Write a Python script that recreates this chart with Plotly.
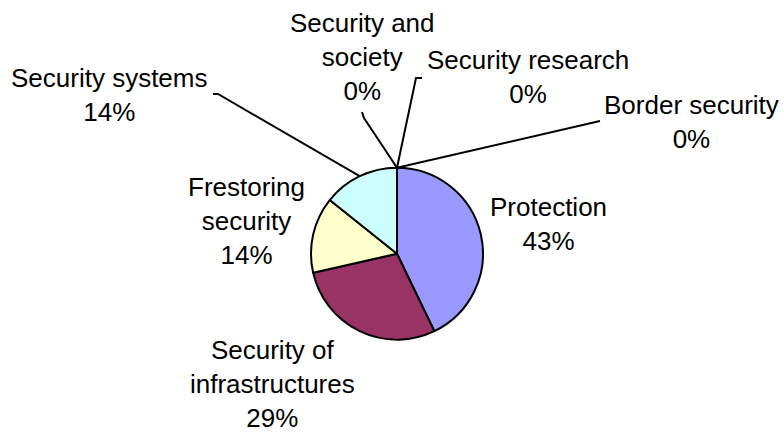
import math
import plotly.graph_objects as go

# ---- data ----
categories = ["Protection", "Security of infrastructures", "Frestoring security",
              "Security systems", "Security and society", "Security research",
              "Border security"]
values = [3, 2, 1, 1, 0, 0, 0]
label_lines = [["Protection"], ["Security of", "infrastructures"], ["Frestoring", "security"],
               ["Security systems"], ["Security and", "society"], ["Security research"],
               ["Border security"]]

# ---- styling / layout ----
W, H = 784, 432
colors = ["#9999FF", "#993366", "#FFFFCC", "#CCFFFF", "#660066", "#FF8080", "#0066CC"]
FONT = "Liberation Sans, Arial, sans-serif"
FS = 26
CX, CY, R = 397, 253.7, 86   # pie centre/radius in pixels

# label centres (px) and leader-line elbows (px, None = no leader line)
label_pos = [(548, 224), (272, 384), (246, 221), (110, 95), (362, 57), (528, 77), (691, 122)]
leader_start = [None, None, None,
                [(213, 94), (218, 94)],
                [(362, 112), (364, 118)],
                [(422, 78), (416, 78)],
                [(600, 121)]]

def px(x):
    return x / W

def py(y):
    return 1 - y / H

total = sum(values)
pct = [round(100 * v / total) for v in values]

fig = go.Figure()
fig.add_trace(go.Pie(
    labels=categories, values=values, sort=False, direction="clockwise", rotation=0,
    marker=dict(colors=colors, line=dict(color="black", width=2)),
    textinfo="none", hoverinfo="label+percent", showlegend=False,
    domain=dict(x=[px(CX - R), px(CX + R)], y=[py(CY + R), py(CY - R)]),
))

annotations = []
shapes = []
cum = 0
for i, v in enumerate(values):
    mid = (cum + v / 2) / total * 2 * math.pi
    cum += v
    ax = CX + R * math.sin(mid)
    ay = CY - R * math.cos(mid)
    lx, ly = label_pos[i]
    text = "<br>".join(label_lines[i] + [f"{pct[i]}%"])
    annotations.append(dict(
        x=px(lx), y=py(ly), xref="paper", yref="paper", text=text, showarrow=False,
        xanchor="center", yanchor="middle", align="center",
        font=dict(family=FONT, size=FS, color="black"),
    ))
    if leader_start[i] is not None:
        pts = leader_start[i] + [(ax, ay)]
        path = "M " + " L ".join(f"{px(x):.5f},{py(y):.5f}" for x, y in pts)
        shapes.append(dict(type="path", xref="paper", yref="paper", path=path,
                           line=dict(color="black", width=2)))

fig.update_layout(
    width=W, height=H, margin=dict(l=0, r=0, t=0, b=0),
    paper_bgcolor="white", plot_bgcolor="white",
    annotations=annotations, shapes=shapes,
)
fig.write_html("out.html", config={"displayModeBar": False},
               post_script="document.body.style.margin='0px';document.body.style.overflow='hidden';")
